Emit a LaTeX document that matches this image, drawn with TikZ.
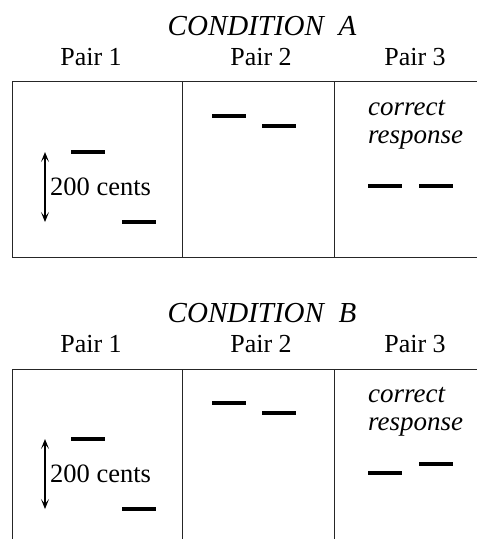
\documentclass[tikz,border=0pt]{standalone}
\usepackage{fontspec}
\setmainfont{Liberation Serif}
\usetikzlibrary{arrows.meta}

\tikzset{
  frame/.style={line width=1pt, black!85},
  bar/.style={line width=4pt},
  span/.style={line width=1.2pt, {Stealth[length=10pt,width=8pt,inset=5pt]}-{Stealth[length=10pt,width=8pt,inset=5pt]}},
  title/.style={anchor=base, font=\fontsize{29}{34}\selectfont\itshape},
  pairlabel/.style={anchor=base, font=\fontsize{26}{31}\selectfont},
  cents/.style={anchor=base west, inner sep=0pt, font=\fontsize{26.5}{31}\selectfont},
  answer/.style={anchor=base west, inner sep=0pt, font=\fontsize{27}{32}\selectfont\itshape}
}

\begin{document}
\begin{tikzpicture}[x=1pt,y=-1pt]
\useasboundingbox (0,0) rectangle (477,539);
\clip (0,0) rectangle (477,539);

% condition A
\node[title] (condA) at (262,35) {CONDITION\ \ A};
\node[pairlabel] (pA1) at (91,65) {Pair 1};
\node[pairlabel] (pA2) at (261,65) {Pair 2};
\node[pairlabel] (pA3) at (415,65) {Pair 3};

\draw[frame] (12,81) rectangle (490,257);
\draw[frame] (182,81) -- (182,257);
\draw[frame] (334,81) -- (334,257);

\draw[bar] (71,152) -- (105,152);
\draw[bar] (122,222) -- (156,222);
\coordinate (topA) at (45,152);
\coordinate (botA) at (45,222);
\draw[span] (topA) -- (botA);
\node[cents] (centsA) at (50,195) {200 cents};

\draw[bar] (212,116) -- (246,116);
\draw[bar] (262,126) -- (296,126);

\node[answer] (corrA) at (368,115) {correct};
\node[answer] (respA) at (368,143) {response};
\draw[bar] (368,186) -- (402,186);
\draw[bar] (419,186) -- (453,186);

% condition B
\begin{scope}[yshift=-287pt]
\node[title] (condB) at (262,35) {CONDITION\ \ B};
\node[pairlabel] (pB1) at (91,65) {Pair 1};
\node[pairlabel] (pB2) at (261,65) {Pair 2};
\node[pairlabel] (pB3) at (415,65) {Pair 3};

\draw[frame] (12,290) -- (12,82) -- (490,82);
\draw[frame] (182,82) -- (182,290);
\draw[frame] (334,82) -- (334,290);

\draw[bar] (71,152) -- (105,152);
\draw[bar] (122,222) -- (156,222);
\coordinate (topB) at (45,152);
\coordinate (botB) at (45,222);
\draw[span] (topB) -- (botB);
\node[cents] (centsB) at (50,195) {200 cents};

\draw[bar] (212,116) -- (246,116);
\draw[bar] (262,126) -- (296,126);

\node[answer] (corrB) at (368,115) {correct};
\node[answer] (respB) at (368,143) {response};
\draw[bar] (368,186) -- (402,186);
\draw[bar] (419,177) -- (453,177);
\end{scope}
\end{tikzpicture}
\end{document}
